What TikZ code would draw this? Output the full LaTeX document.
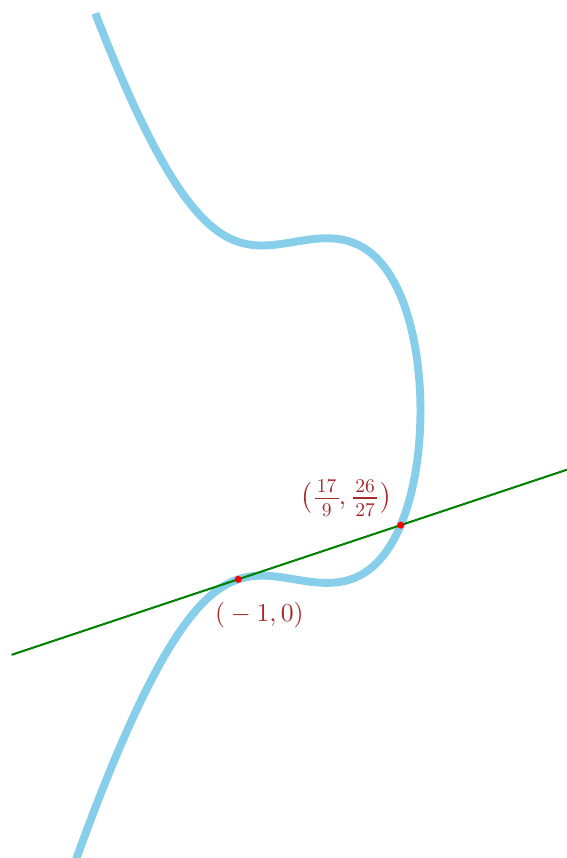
\documentclass[tikz,border=0pt]{standalone}
\usepackage{graphicx}
\definecolor{curveblue}{RGB}{135,206,235}
\definecolor{linegreen}{RGB}{0,128,0}
\definecolor{labelbrown}{RGB}{165,42,42}
\newcommand{\myfr}[2]{\mathord{\vcenter{\halign{\hfil\kern0.9pt##\kern0.9pt\hfil\cr
  \scalebox{0.76}{#1}\cr
  \noalign{\kern1.9pt\hrule height0.45pt\kern1.9pt}
  \scalebox{0.76}{#2}\cr}}}}
\tikzset{
  curvestyle/.style={draw=curveblue,line width=4pt,line cap=butt},
  tangentstyle/.style={draw=linegreen,line width=1.05pt},
  dotstyle/.style={circle,fill=red,inner sep=0pt,minimum size=0.125cm},
  labelstyle/.style={text=labelbrown,scale=1.3,inner sep=0pt}
}
\begin{document}
\begin{tikzpicture}
\useasboundingbox (-5.236,-4.955) rectangle (4.844,10.30);
\clip (-5.236,-4.955) rectangle (4.844,10.30);
\def\xr{2.24004}
\draw[curvestyle] plot[domain=-2.5:2.405,samples=300,smooth,variable=\u]
  ({\xr-(\u)*(\u)},{3+(\u)*sqrt((\xr-(\u)*(\u))*(\xr-(\u)*(\u))+\xr*(\xr-(\u)*(\u))+\xr*\xr-1)});
\coordinate (L1) at (-5.03,-1.3433);
\coordinate (L2) at (5,2);
\draw[tangentstyle] (L1) -- (L2);
\node[dotstyle] (P) at (-1,0) {};
\node[dotstyle] (Q) at (17/9,26/27) {};
\node[labelstyle] (PL) at (-0.623,-0.635) {$({}-1,0)$};
\node[labelstyle] (QL) at (0.915,1.445) {$\bigl(\mskip2mu\myfr{17}{9},\mskip2mu\myfr{26}{27}\mskip2mu\bigr)$};
\end{tikzpicture}
\end{document}
